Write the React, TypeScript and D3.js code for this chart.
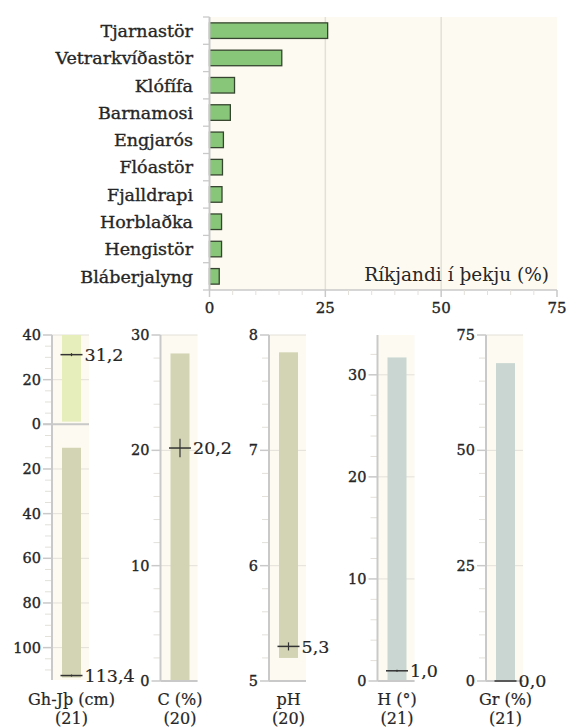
import { format, range, scaleBand, scaleLinear } from 'd3';

const width = 568;
const height = 727;
const font = '"DejaVu Serif", serif';

// top chart: dominant species cover
const species = [
	'Tjarnastör',
	'Vetrarkvíðastör',
	'Klófífa',
	'Barnamosi',
	'Engjarós',
	'Flóastör',
	'Fjalldrapi',
	'Horblaðka',
	'Hengistör',
	'Bláberjalyng',
];
const cover = [25.5, 15.6, 5.4, 4.5, 3.0, 2.8, 2.7, 2.6, 2.6, 2.1];
const coverTicks = [0, 25, 50, 75];
const coverTitle = 'Ríkjandi í þekju (%)';

// Gh-Jþ panel (upper part drawn above 0, lower below)
const depthLabel = 'Gh-Jþ (cm)';
const depthN = 21;
const depthUpper = [1.2, 40];
const depthUpperMean = 31.2;
const depthLower = [10.5, 113.4];
const depthLowerMean = 113.4;
const depthTicks = [-40, -20, 0, 20, 40, 60, 80, 100];

// other soil panels
const panelNames = ['C (%)', 'pH', 'H (°)', 'Gr (%)'];
const panelN = [20, 20, 21, 21];
const panelDomain = [
	[0, 30],
	[5, 8],
	[0, 33.9],
	[0, 75],
];
const panelTicks = [
	[0, 10, 20, 30],
	[5, 6, 7, 8],
	[0, 10, 20, 30],
	[0, 25, 50, 75],
];
const panelMinor = [2, 0.2, 2, 5];
const panelLow = [0, 5.2, 0, 0];
const panelHigh = [28.4, 7.85, 31.7, 68.9];
const panelMean = [20.2, 5.3, 1.0, 0.0];
const panelErr = [0.8, 0.035, 0.1, 0];

const bg = '#fdfaf1';
const axisGray = '#c9c9c9';
const gridGray = '#e3e0da';
const textColor = '#262626';
const fmt = (v: number) => format('.1f')(v).replace('.', ',');

// slightly heavier than regular, like the reference's semibold serif
const semi = { stroke: textColor, strokeWidth: 0.35 };
const light = { stroke: textColor, strokeWidth: 0.2 };

const Mark = ({ cx, y, yLo, yHi, label }: any) => (
	<g>
		<line x1={cx - 11} x2={cx + 11} y1={y} y2={y} stroke="#333" strokeWidth={1.5} />
		<line x1={cx} x2={cx} y1={yLo} y2={yHi} stroke="#333" strokeWidth={1.2} />
		<text
			x={cx + 13}
			y={y}
			dy=".35em"
			fontSize={17.5}
			fill={textColor}
			fontFamily={font}
			{...light}
		>
			{label}
		</text>
	</g>
);

const YAxis = ({ x, yScale, ticks, minorStep, domain, gridTo, tickFormat }: any) => {
	const minor = range(domain[0], domain[1] + 1e-9, minorStep).filter(
		(v: number) => !ticks.some((t: number) => Math.abs(t - v) < 1e-6)
	);
	return (
		<g>
			{ticks.map((t: number) => (
				<line
					key={'g' + t}
					x1={x}
					x2={gridTo}
					y1={yScale(t)}
					y2={yScale(t)}
					stroke={gridGray}
				/>
			))}
			{minor.map((t: number) => (
				<line
					key={'m' + t}
					x1={x - 7}
					x2={x}
					y1={yScale(t)}
					y2={yScale(t)}
					stroke={gridGray}
				/>
			))}
			{ticks.map((t: number) => (
				<g key={'t' + t}>
					<line x1={x - 9} x2={x} y1={yScale(t)} y2={yScale(t)} stroke={axisGray} strokeWidth={1.5} />
					<text
						x={x - 11}
						y={yScale(t)}
						dy=".35em"
						textAnchor="end"
						fontSize={14.5}
						fill={textColor}
						fontFamily={font}
						{...semi}
					>
						{tickFormat ? tickFormat(t) : t}
					</text>
				</g>
			))}
			<line
				x1={x}
				x2={x}
				y1={yScale.range()[1]}
				y2={yScale.range()[0]}
				stroke={axisGray}
				strokeWidth={2}
			/>
		</g>
	);
};

const App = () => {
	// top bar chart
	const xScale = scaleLinear().domain([0, 75]).range([209.5, 557]);
	const yScale = scaleBand<string>()
		.domain(species)
		.range([17, 290])
		.paddingInner(0.43)
		.paddingOuter(0.215);
	const step = yScale.step();
	const coverMinor = range(5, 75, 5).filter(v => v % 25 !== 0);

	// bottom panels
	const panelX = scaleBand<string>()
		.domain([depthLabel, ...panelNames])
		.range([52, 52 + 5 * 108.5]);
	const bgW = 37;
	const barL = 10;
	const barW = 19;
	const depthY = scaleLinear().domain([-40, 114.5]).range([335, 680]);
	const labelY = 705;

	const PanelLabel = ({ cx, name, n }: any) => (
		<g fontSize={16} fill={textColor} fontFamily={font} textAnchor="middle" {...light}>
			<text x={cx} y={labelY}>
				{name}
			</text>
			<text x={cx} y={labelY + 19}>
				({n})
			</text>
		</g>
	);

	return (
		<svg
			width={width}
			height={height}
			style={{ position: 'absolute', left: 0, top: 0, background: '#fff' }}
		>
			{/* top chart */}
			<rect x={xScale(0)} y={17} width={xScale(75) - xScale(0)} height={273} fill={bg} />
			{coverTicks.slice(1, 3).map(t => (
				<line key={t} x1={xScale(t)} x2={xScale(t)} y1={17} y2={290} stroke={gridGray} strokeWidth={1.5} />
			))}
			{species.map((s, i) => (
				<g key={s}>
					<rect
						x={xScale(0)}
						y={yScale(s)}
						width={xScale(cover[i]) - xScale(0)}
						height={yScale.bandwidth()}
						fill="#88c77a"
						stroke="#36452f"
						strokeWidth={1.3}
					/>
					<text
						x={193}
						y={(yScale(s) as number) + yScale.bandwidth() / 2}
						dy=".36em"
						textAnchor="end"
						fontSize={17.5}
						fill={textColor}
						fontFamily={font}
						{...semi}
					>
						{s}
					</text>
				</g>
			))}
			{range(species.length + 1).map(i => (
				<line key={i} x1={203} x2={209.5} y1={17 + i * step} y2={17 + i * step} stroke={axisGray} strokeWidth={1.3} />
			))}
			<line x1={209.5} x2={209.5} y1={17} y2={290} stroke={axisGray} strokeWidth={2} />
			<line x1={209.5} x2={557} y1={290} y2={290} stroke={axisGray} strokeWidth={1.5} />
			{coverMinor.map(t => (
				<line key={t} x1={xScale(t)} x2={xScale(t)} y1={290} y2={295} stroke={gridGray} />
			))}
			{coverTicks.map(t => (
				<g key={t}>
					<line x1={xScale(t)} x2={xScale(t)} y1={290} y2={297} stroke={axisGray} strokeWidth={1.5} />
					<text
						x={xScale(t)}
						y={313}
						textAnchor="middle"
						fontSize={15}
						fill={textColor}
						fontFamily={font}
						{...semi}
					>
						{t}
					</text>
				</g>
			))}
			<text
				x={549}
				y={281}
				textAnchor="end"
				fontSize={18.5}
				fill={textColor}
				fontFamily={font}
			>
				{coverTitle}
			</text>

			{/* Gh-Jþ panel */}
			{(() => {
				const ax = panelX(depthLabel) as number;
				const cx = ax + barL + barW / 2;
				return (
					<g>
						<rect x={ax} y={335} width={bgW} height={345} fill={bg} />
						<YAxis
							x={ax}
							yScale={depthY}
							ticks={depthTicks}
							minorStep={5}
							domain={[-40, 114.5]}
							gridTo={ax + bgW}
							tickFormat={(t: number) => Math.abs(t)}
						/>
						<rect
							x={ax + barL}
							y={depthY(-depthUpper[1])}
							width={barW}
							height={depthY(-depthUpper[0]) - depthY(-depthUpper[1])}
							fill="#e6eebc"
						/>
						<rect
							x={ax + barL}
							y={depthY(depthLower[0])}
							width={barW}
							height={depthY(depthLower[1]) - depthY(depthLower[0])}
							fill="#d3d4b4"
						/>
						<line x1={ax - 9} x2={ax + bgW} y1={depthY(0)} y2={depthY(0)} stroke={axisGray} strokeWidth={2} />
						<Mark
							cx={cx}
							y={depthY(-depthUpperMean)}
							yLo={depthY(-depthUpperMean) - 1.5}
							yHi={depthY(-depthUpperMean) + 1.5}
							label={fmt(depthUpperMean)}
						/>
						<Mark
							cx={cx}
							y={depthY(depthLowerMean) - 2}
							yLo={depthY(depthLowerMean) - 3}
							yHi={depthY(depthLowerMean) - 1}
							label={fmt(depthLowerMean)}
						/>
						<PanelLabel cx={cx} name={depthLabel} n={depthN} />
					</g>
				);
			})()}

			{/* other panels */}
			{panelNames.map((name, i) => {
				const ax = panelX(name) as number;
				const cx = ax + barL + barW / 2;
				const y = scaleLinear().domain(panelDomain[i]).range([681, 335]);
				const fill = i < 2 ? '#d3d4b4' : '#c9d6d1';
				return (
					<g key={name}>
						<rect x={ax} y={335} width={bgW} height={346} fill={bg} />
						<YAxis
							x={ax}
							yScale={y}
							ticks={panelTicks[i]}
							minorStep={panelMinor[i]}
							domain={panelDomain[i]}
							gridTo={ax + bgW}
						/>
						<rect
							x={ax + barL}
							y={y(panelHigh[i])}
							width={barW}
							height={y(panelLow[i]) - y(panelHigh[i])}
							fill={fill}
						/>
						<line x1={ax} x2={ax + bgW} y1={681} y2={681} stroke={axisGray} strokeWidth={2} />
						<Mark
							cx={cx}
							y={y(panelMean[i])}
							yLo={y(panelMean[i] - panelErr[i])}
							yHi={y(panelMean[i] + panelErr[i])}
							label={fmt(panelMean[i])}
						/>
						<PanelLabel cx={cx} name={name} n={panelN[i]} />
					</g>
				);
			})}
		</svg>
	);
};

export default App;
